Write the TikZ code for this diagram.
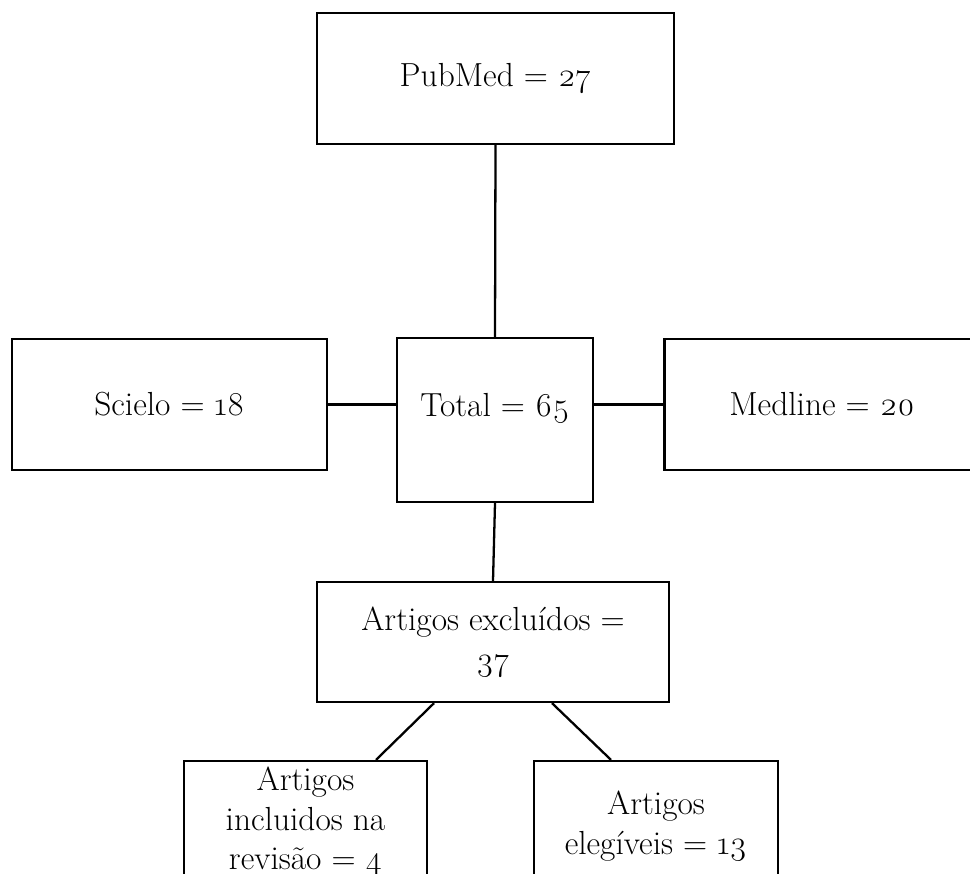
\documentclass[tikz,border=0pt]{standalone}
\usepackage{fontspec}
\setmainfont{Latin Modern Roman}[Numbers=OldStyle]
\usetikzlibrary{positioning}

\begin{document}
\begin{tikzpicture}[
		caixa/.style={draw, line width=1.3pt, shape=rectangle, align=center, inner sep=2pt,
			font=\fontsize{19}{22.5}\selectfont},
		fio/.style={draw, line width=1.3pt}
	]
		\clip (0,0) rectangle (19.4,-17.46);
		% Paths, nodes and wires:
		\node[caixa, minimum width=7.14cm, minimum height=2.62cm] (pubmed) at (9.91, -1.57){PubMed = 27};
		\node[caixa, minimum width=3.92cm, minimum height=3.28cm, text height=0.5cm, text depth=0.66cm] (total) at (9.9, -8.4){Total = 65};
		\node[caixa, minimum width=6.3cm, minimum height=2.62cm] (scielo) at (3.39, -8.09){Scielo = 18};
		\node[caixa, minimum width=6.3cm, minimum height=2.62cm] (medline) at (16.44, -8.09){Medline = 20};
		\node[caixa, minimum width=7.04cm, minimum height=2.4cm] (excl) at (9.86, -12.84){Artigos excluídos =\\37};
		\node[caixa, minimum width=4.86cm, minimum height=2.42cm] (incl) at (6.11, -16.43){Artigos\\incluidos na\\revisão = 4};
		\node[caixa, minimum width=4.88cm, minimum height=2.6cm] (eleg) at (13.12, -16.52){Artigos\\elegíveis = 13};
		\draw[fio] (pubmed.south) -- (total.north);
		\draw[fio] (scielo.east) -- (scielo.east -| total.west);
		\draw[fio] (total.east |- medline.west) -- (medline.west);
		\draw[fio] (total.south) -- (excl.north);
		\draw[fio] ([xshift=-1.18cm]excl.south) -- ([xshift=1.41cm]incl.north);
		\draw[fio] ([xshift=1.18cm]excl.south) -- ([xshift=-0.9cm]eleg.north);
	\end{tikzpicture}
\end{document}
